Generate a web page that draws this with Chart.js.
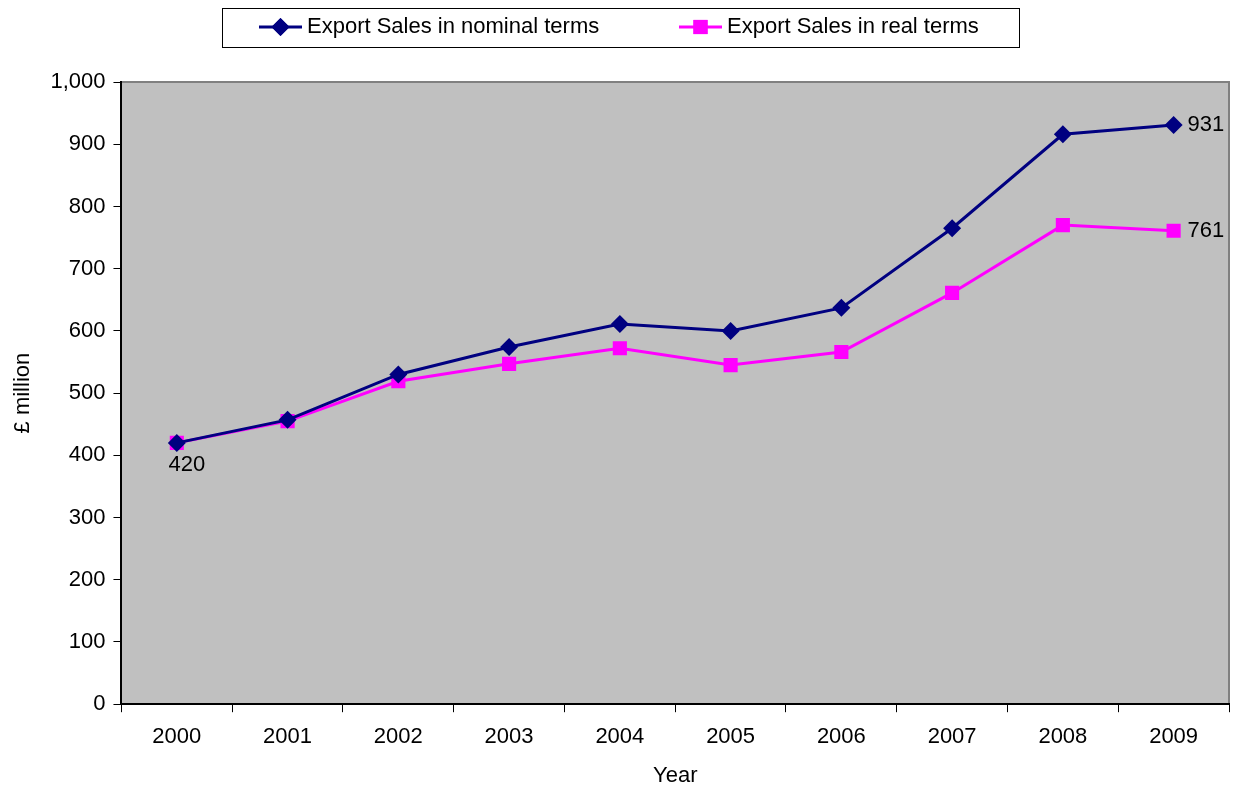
<!DOCTYPE html>
<html>
<head>
<meta charset="utf-8">
<script src="https://cdn.jsdelivr.net/npm/chart.js@4.4.1/dist/chart.umd.min.js"></script>
<style>
  html, body { margin: 0; padding: 0; background: #fff; }
  #wrap { width: 1239px; height: 789px; }
</style>
</head>
<body>
<div id="wrap"><canvas id="chart" width="1239" height="789"></canvas></div>
<script>
const years = ["2000", "2001", "2002", "2003", "2004", "2005", "2006", "2007", "2008", "2009"];
const nominalSales = [420, 457, 530, 574, 611, 600, 637, 765, 916, 931];
const realSales = [420, 455, 519, 547, 572, 545, 566, 661, 770, 761];
const nominalLabel = "Export Sales in nominal terms";
const realLabel = "Export Sales in real terms";

const FONT = "'Liberation Sans', Arial, sans-serif";
const FSIZE = 22;
const NAVY = "#000080";
const MAGENTA = "#FF00FF";

// grey plot background with thin border on top/right
const plotBg = {
  id: "plotBg",
  beforeDraw(chart) {
    const { ctx, chartArea: a } = chart;
    ctx.save();
    ctx.fillStyle = "#C0C0C0";
    ctx.fillRect(a.left, a.top, a.right - a.left, a.bottom - a.top);
    ctx.strokeStyle = "#808080";
    ctx.lineWidth = 2;
    ctx.beginPath();
    ctx.moveTo(a.left, a.top);
    ctx.lineTo(a.right, a.top);
    ctx.lineTo(a.right, a.bottom);
    ctx.stroke();
    ctx.restore();
  },
};

// end-point labels: 420 under first point, last values right of last points
const pointLabels = {
  id: "pointLabels",
  afterDatasetsDraw(chart) {
    const { ctx } = chart;
    ctx.save();
    ctx.font = `${FSIZE}px ${FONT}`;
    ctx.fillStyle = "#000";
    ctx.textBaseline = "middle";
    const nom = chart.getDatasetMeta(0).data;
    const real = chart.getDatasetMeta(1).data;
    ctx.textAlign = "center";
    ctx.fillText(String(nominalSales[0]), nom[0].x + 10, nom[0].y + 22);
    ctx.textAlign = "left";
    const ln = nom[nom.length - 1];
    const lr = real[real.length - 1];
    ctx.fillText(String(nominalSales[nominalSales.length - 1]), ln.x + 14, ln.y);
    ctx.fillText(String(realSales[realSales.length - 1]), lr.x + 14, lr.y);
    ctx.restore();
  },
};

// boxed legend with line + marker samples
const boxLegend = {
  id: "boxLegend",
  afterDraw(chart) {
    const { ctx } = chart;
    ctx.save();
    ctx.strokeStyle = "#000";
    ctx.lineWidth = 1;
    ctx.strokeRect(222.5, 8.5, 797, 39);
    const items = [
      { x: 259, label: nominalLabel, color: NAVY, style: "rectRot", r: 9 },
      { x: 679, label: realLabel, color: MAGENTA, style: "rect", r: 10 },
    ];
    const cy = 27;
    items.forEach((it) => {
      ctx.strokeStyle = it.color;
      ctx.lineWidth = 3;
      ctx.beginPath();
      ctx.moveTo(it.x, cy);
      ctx.lineTo(it.x + 43, cy);
      ctx.stroke();
      ctx.fillStyle = it.color;
      Chart.helpers.drawPoint(ctx, { pointStyle: it.style, radius: it.r, rotation: 0, borderWidth: 0 }, it.x + 21.5, cy);
      ctx.fill();
      ctx.fillStyle = "#000";
      ctx.font = `${FSIZE}px ${FONT}`;
      ctx.textAlign = "left";
      ctx.textBaseline = "middle";
      ctx.fillText(it.label, it.x + 48, cy);
    });
    ctx.restore();
  },
};

new Chart(document.getElementById("chart").getContext("2d"), {
  type: "line",
  data: {
    labels: years,
    datasets: [
      {
        label: nominalLabel,
        data: nominalSales,
        borderColor: NAVY,
        backgroundColor: NAVY,
        borderWidth: 3,
        pointStyle: "rectRot",
        pointRadius: 9,
        pointBorderWidth: 0,
        tension: 0,
      },
      {
        label: realLabel,
        data: realSales,
        borderColor: MAGENTA,
        backgroundColor: MAGENTA,
        borderWidth: 3,
        pointStyle: "rect",
        pointRadius: 10,
        pointBorderWidth: 0,
        tension: 0,
      },
    ],
  },
  options: {
    responsive: false,
    animation: false,
    layout: { padding: { top: 82, right: 8, left: 10, bottom: 0 } },
    plugins: {
      legend: { display: false },
      tooltip: { enabled: false },
    },
    scales: {
      x: {
        offset: true,
        grid: { offset: true, drawOnChartArea: false, color: "#000", tickLength: 8 },
        border: { color: "#000", width: 2 },
        ticks: { color: "#000", font: { family: FONT, size: FSIZE }, padding: 12 },
        title: { display: true, text: "Year", color: "#000", font: { family: FONT, size: FSIZE }, padding: { top: 0, bottom: 0 } },
      },
      y: {
        min: 0,
        max: 1000,
        ticks: {
          stepSize: 100,
          color: "#000",
          font: { family: FONT, size: FSIZE },
          padding: 8,
          callback: (v) => v.toLocaleString("en-US"),
        },
        grid: { drawOnChartArea: false, color: "#000", tickLength: 8 },
        border: { color: "#000", width: 2 },
        title: { display: true, text: "£ million", color: "#000", font: { family: FONT, size: FSIZE }, padding: { top: 0, bottom: 6 } },
      },
    },
  },
  plugins: [plotBg, pointLabels, boxLegend],
});
</script>
</body>
</html>
